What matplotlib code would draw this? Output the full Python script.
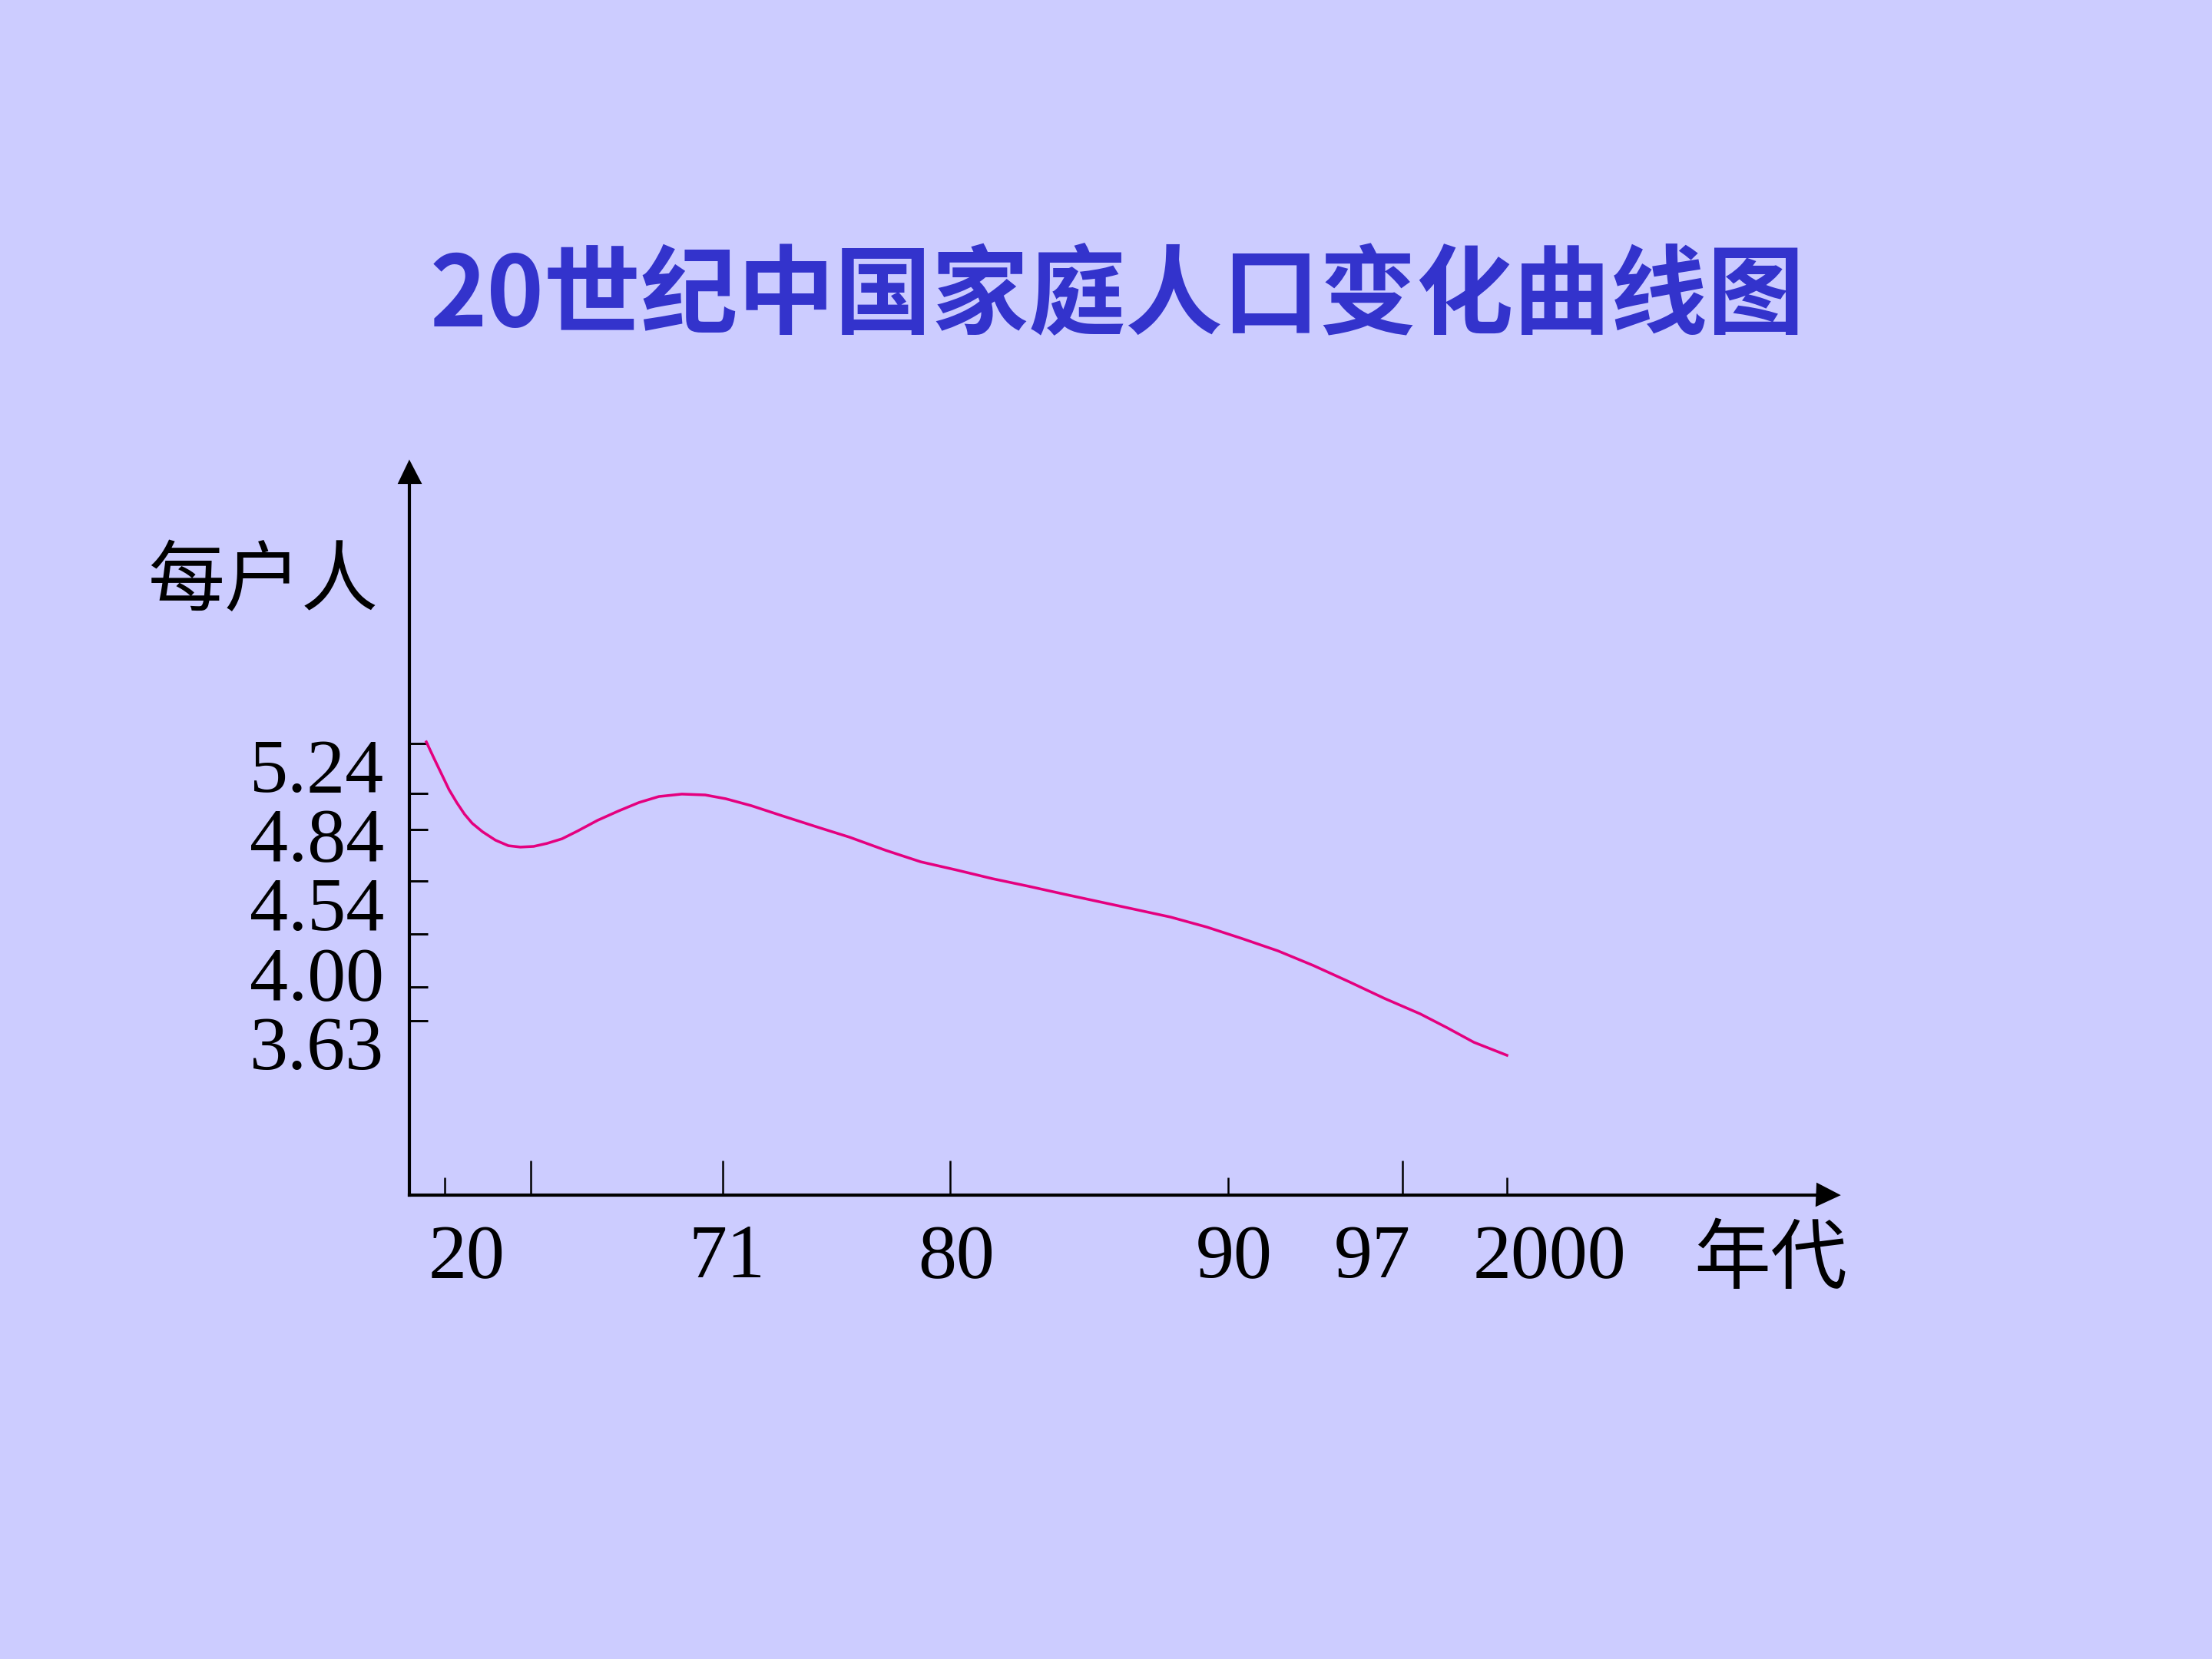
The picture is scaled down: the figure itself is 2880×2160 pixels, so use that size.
import numpy as np
import matplotlib.pyplot as plt

# curve: year vs persons per household
years = [1907.2, 1910.4, 1913.7, 1915.5, 1916.4, 1917.3, 1918.2, 1919.4,
         1920.9, 1922.4, 1923.8, 1925.7, 1928.9, 1932.5, 1936.2, 1941.0,
         1946.0, 1950.9, 1955.7, 1961.2, 1966.8,
         1971.12, 1972.13, 1973.34, 1974.77, 1976.02, 1977.45, 1978.84,
         1980.25, 1981.52, 1982.82, 1984.09, 1985.36, 1986.66, 1987.93, 1989.23,
         1990.56, 1992.00, 1993.42, 1994.84, 1996.29,
         1997.51, 1998.28, 1999.05, 2000.0]
persons = [5.379, 5.285, 5.191, 5.102, 5.027, 4.960, 4.907, 4.858,
           4.817, 4.793, 4.787, 4.790, 4.803, 4.823, 4.862, 4.924,
           4.978, 5.027, 5.062, 5.076, 5.071,
           5.049, 5.009, 4.951, 4.884, 4.830, 4.773, 4.723,
           4.687, 4.650, 4.617, 4.583, 4.550, 4.498, 4.439, 4.362,
           4.273, 4.178, 4.065, 3.959, 3.868,
           3.786, 3.712, 3.634, 3.563]

# axis labels
title = '20世纪中国家庭人口变化曲线图'
year_ticks = [1920, 1971, 1980, 1990, 1997, 2000]
year_labels = ['20', '71', '80', '90', '97', '2000']
person_ticks = [5.24, 4.84, 4.54, 4.00, 3.63]
person_labels = ['5.24', '4.84', '4.54', '4.00', '3.63']

# tick marks on the drawn axes (tall / short on x)
x_marks_tall = [1925, 1971, 1980, 1997]
x_marks_short = [1915, 1990, 2000]
y_marks = [5.37, 5.08, 4.87, 4.64, 4.31, 3.93, 3.75]

# the slide axes are hand drawn and not to scale -> piecewise scale (pixel anchors)
W, H = 2880, 2160
x_anchor_val = [1900, 1915, 1925, 1971, 1980, 1990, 1997, 2000, 2010]
x_anchor_pos = [533, 579, 691, 941, 1237, 1599, 1826, 1962, 2379]
y_anchor_val = [2.8, 3.63, 4.00, 4.54, 4.84, 5.24, 6.95]
y_anchor_pos = [1556, 1358, 1268, 1177, 1087, 997, 615]
label_dx = [-6.5, 1.2, 1.9, 1.9, -9.4, 13.2]  # offset of year labels from ticks [pt]

xv, xp = np.array(x_anchor_val, float), np.array(x_anchor_pos, float)
yv, yp = np.array(y_anchor_val, float), -np.array(y_anchor_pos, float)


def fx(v):
    return np.interp(v, xv, xp)


def ifx(p):
    return np.interp(p, xp, xv)


def fy(v):
    return np.interp(v, yv, yp)


def ify(p):
    return np.interp(p, yp, yv)


serif = ['Liberation Serif', 'DejaVu Serif']
cjk = ['Noto Sans CJK SC', 'DejaVu Sans']

fig = plt.figure(figsize=(9.6, 7.2), dpi=300, facecolor='#CCCCFF')
left, right = x_anchor_pos[0], x_anchor_pos[-1]
bottom, top = y_anchor_pos[0], y_anchor_pos[-1]
ax = fig.add_axes([left / W, 1 - bottom / H, (right - left) / W, (bottom - top) / H])
ax.set_facecolor('none')

ax.set_xscale('function', functions=(fx, ifx))
ax.set_yscale('function', functions=(fy, ify))
ax.set_xlim(x_anchor_val[0], x_anchor_val[-1])
ax.set_ylim(y_anchor_val[0], y_anchor_val[-1])

ax.plot(years, persons, color='#E4007F', lw=0.85, solid_joinstyle='round')

# axes with arrow heads
for s in ['top', 'right']:
    ax.spines[s].set_visible(False)
for s in ['left', 'bottom']:
    ax.spines[s].set_linewidth(1.0)
    ax.spines[s].set_color('black')
ax.plot(1, 0, '>k', ms=6, transform=ax.transAxes, clip_on=False)
ax.plot(0, 1, '^k', ms=6, transform=ax.transAxes, clip_on=False)

# x ticks
ax.set_xticks(x_marks_tall)
ax.set_xticks(x_marks_short, minor=True)
ax.tick_params(axis='x', which='major', direction='in', length=10.8, width=0.6, color='k')
ax.tick_params(axis='x', which='minor', direction='in', length=5.5, width=0.6, color='k')
ax.tick_params(axis='x', which='both', labelbottom=False)
for yr, lab, dx in zip(year_ticks, year_labels, label_dx):
    ax.annotate(lab, xy=(yr, 0), xycoords=ax.get_xaxis_transform(),
                xytext=(dx, -19.9), textcoords='offset points',
                ha='center', va='center', fontsize=24, family=serif,
                annotation_clip=False)

# y ticks
ax.set_yticks(person_ticks)
ax.set_yticklabels(person_labels, fontsize=24, family=serif)
ax.set_yticks(y_marks, minor=True)
ax.tick_params(axis='y', which='major', length=0, pad=7.9)
ax.tick_params(axis='y', which='minor', direction='in', length=5.8, width=0.7, color='k',
               labelleft=False)

fig.text(1455 / W, 1 - 387 / H, title, ha='center', va='center', fontsize=30.3,
         fontweight='bold', color='#3333CC', family=cjk)
fig.text(342 / W, 1 - 758 / H, '每户人', ha='center', va='center', fontsize=24,
         color='black', family=cjk)
fig.text(2305 / W, 1 - 1641 / H, '年代', ha='center', va='center', fontsize=24,
         color='black', family=cjk)

fig.savefig('out.png', dpi=300, facecolor=fig.get_facecolor())
